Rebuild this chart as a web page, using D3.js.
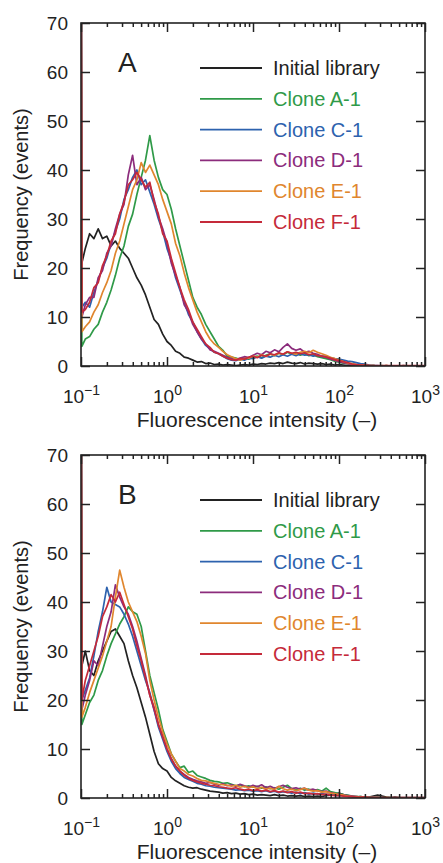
<!DOCTYPE html>
<html>
<head>
<meta charset="utf-8">
<script src="https://cdn.jsdelivr.net/npm/d3@7"></script>
<style>
body { margin: 0; background: #fff; }
svg text { font-family: "Liberation Sans", Arial, Helvetica, sans-serif; fill: #222; }
</style>
</head>
<body>
<div id="chart"></div>
<script>
// histogram bins, log10 of fluorescence intensity
const logBins = [-1.00, -0.99, -0.95, -0.90, -0.85, -0.80, -0.75, -0.70, -0.65, -0.60,
  -0.55, -0.50, -0.45, -0.40, -0.35, -0.30, -0.25, -0.20, -0.15, -0.10,
  -0.05, 0.00, 0.05, 0.10, 0.15, 0.20, 0.25, 0.30, 0.35, 0.40,
  0.45, 0.50, 0.55, 0.60, 0.65, 0.70, 0.75, 0.80, 0.85, 0.90,
  0.95, 1.00, 1.05, 1.10, 1.15, 1.20, 1.25, 1.30, 1.35, 1.40,
  1.45, 1.50, 1.55, 1.60, 1.65, 1.70, 1.75, 1.80, 1.85, 1.90,
  1.95, 2.00, 2.05, 2.10, 2.15, 2.20, 2.25, 2.30, 2.35, 2.40,
  2.45, 2.50, 2.55, 2.60, 2.65, 2.70, 2.75, 2.80, 2.85, 2.90,
  2.95, 3.00];

const seriesNames = ["Initial library", "Clone A-1", "Clone C-1", "Clone D-1", "Clone E-1", "Clone F-1"];
const seriesColors = ["#222222", "#2f9a48", "#2d62ae", "#8c2c7c", "#e0862e", "#c52a3a"];
const yTicks = [0, 10, 20, 30, 40, 50, 60, 70];
const xTicks = [0.1, 1, 10, 100, 1000];
const xTickExp = ["\u22121", "0", "1", "2", "3"];

// panel A
const a_initial = [100, 21, 24, 27, 26, 28, 26, 26.5, 24.5, 25.5, 24, 23, 22, 20, 18, 16.5, 14.5, 12, 9.5, 8.5,
  6.5, 5, 4.2, 3, 2.6, 1.8, 1.6, 1.2, 0.8, 0.9, 0.5, 0.6, 0.3, 0.4, 0.2, 0.3,
  0.2, 0.1, 0.2, 0.3, 0.2, 0.4, 0.3, 0.5, 0.4, 0.6, 0.5, 0.7, 0.5, 0.8, 0.6, 0.5, 0.7, 0.4, 0.6, 0.5,
  0.4, 0.5, 0.3, 0.4, 0.2, 0.3, 0.2, 0.1, 0.2, 0.1, 0.1, 0.1, 0, 0.1, 0, 0, 0.1, 0, 0, 0, 0.1, 0, 0, 0, 0, 0];
const a_cloneA = [100, 4, 5.5, 6, 7.5, 8.5, 11, 13, 15.5, 18.5, 22, 24.5, 28.5, 31, 35, 38.5, 42, 47, 42, 38.5,
  36, 35, 32, 28, 24.5, 21, 17.5, 14, 12, 10.5, 8.5, 7, 5.5, 4, 3.2, 2.0,
  1.8, 1.6, 1.3, 1.6, 1.4, 1.8, 2.0, 1.7, 2.2, 2.5, 2.1, 2.6, 2.3, 2.8, 2.4, 2.6, 2.2, 2.5, 2.1, 2.3,
  1.9, 1.7, 1.5, 1.3, 1.0, 0.8, 0.6, 0.5, 0.3, 0.3, 0.2, 0.1, 0.1, 0.1, 0, 0.1, 0, 0, 0, 0, 0, 0, 0, 0, 0, 0];
const a_cloneC = [100, 12, 13, 12, 15, 17.5, 20, 22, 25, 27.5, 30, 34, 36, 38.5, 40, 37, 38, 35.5, 33, 30,
  27.5, 24, 21.5, 18, 15.5, 13, 10.5, 9, 7, 5.5, 4.2, 3.5, 2.8, 2.5, 2, 1.5,
  1.2, 1.1, 1.4, 1.2, 1.6, 1.5, 1.9, 1.6, 2.0, 1.8, 2.2, 1.9, 2.3, 2.0, 2.4, 2.1, 2.5, 2.2, 2.3, 2.0,
  2.2, 1.9, 2.0, 1.7, 1.5, 1.4, 1.2, 1.0, 0.9, 0.7, 0.5, 0.4, 0.2, 0.1, 0.1, 0, 0, 0, 0, 0, 0, 0, 0, 0, 0, 0];
const a_cloneD = [100, 10, 12.5, 14, 14, 18, 19.5, 23, 24.5, 28, 31, 33, 39, 43, 37, 38.5, 36, 37, 34, 30.5,
  28, 25, 21, 18.5, 16, 12.5, 11, 8.5, 7, 5.5, 4.5, 3.3, 3, 2.6, 2.2, 1.8,
  1.5, 1.3, 1.6, 1.9, 1.7, 2.2, 2.6, 2.3, 3.0, 2.7, 3.3, 2.9, 3.8, 4.5, 3.6, 3.2, 3.5, 2.8, 3.0, 2.6,
  2.4, 2.0, 1.8, 1.4, 1.2, 0.9, 0.7, 0.5, 0.3, 0.2, 0.2, 0.1, 0.1, 0, 0, 0, 0, 0, 0, 0, 0, 0, 0, 0, 0, 0];
const a_cloneE = [100, 7, 8, 9, 11, 12.5, 15, 17, 19.5, 23, 25.5, 29, 32.5, 36, 38, 41.5, 39.5, 41, 39, 37,
  34, 31.5, 29, 25, 22.5, 19, 16, 13.5, 11, 9, 7, 5.5, 4.5, 3.8, 3, 2.3,
  1.9, 1.5, 1.2, 1.5, 1.6, 2.0, 1.8, 2.3, 2.0, 2.4, 2.2, 2.6, 2.4, 2.9, 2.6, 2.4, 2.8, 3.0, 2.7, 3.2,
  2.8, 2.5, 2.2, 1.8, 1.5, 1.2, 0.9, 0.6, 0.5, 0.3, 0.2, 0.2, 0.1, 0.1, 0, 0, 0.1, 0, 0, 0, 0, 0, 0, 0, 0, 0];
const a_cloneF = [100, 11, 11.5, 13, 16, 17, 20.5, 22.5, 25.5, 27, 31, 33.5, 37, 38, 39.5, 38, 36.5, 37.5, 33.5, 31,
  27, 25.5, 22, 19, 16, 13.5, 11.5, 9, 7.5, 6, 4.5, 3.8, 2.8, 2.5, 2, 1.6,
  1.3, 1.2, 1.5, 1.4, 1.8, 2.0, 1.7, 2.2, 2.0, 2.5, 2.3, 2.7, 2.4, 2.9, 2.6, 2.8, 2.5, 2.7, 2.3, 2.5,
  2.1, 2.0, 1.8, 1.6, 1.3, 1.1, 0.9, 0.7, 0.4, 0.3, 0.2, 0.2, 0.1, 0.1, 0.1, 0.1, 0.1, 0.1, 0.1, 0.1, 0.1, 0.1, 0.1, 0.1, 0.1, 0.1];

// panel B
const b_initial = [100, 27, 30, 26, 25, 28, 30, 32, 34, 34.5, 33, 31.5, 28, 25, 22.5, 19.5, 16.5, 13, 9.5, 7,
  6, 5.5, 4.2, 3.5, 3, 2.5, 2.2, 2.0, 2.1, 1.8, 1.6, 1.4, 1.3, 1.2, 1.0, 1.1,
  0.9, 1.0, 0.8, 0.9, 0.7, 0.8, 0.6, 0.7, 0.6, 0.5, 0.7, 0.5, 0.6, 0.4, 0.5, 0.4, 0.5, 0.3, 0.4, 0.3,
  0.4, 0.3, 0.5, 0.6, 0.8, 1.0, 0.7, 0.4, 0.3, 0.2, 0.3, 0.2, 0.2, 0.4, 0.6, 0.4, 0.2, 0.1, 0.2, 0.1, 0.1, 0.1, 0.1, 0.1, 0.1, 0.1];
const b_cloneA = [100, 15, 17, 19.5, 21, 24, 26, 29, 31.5, 33.5, 35.5, 37, 39, 38, 37.5, 35, 30, 25, 21.5, 18,
  14, 11.5, 9, 7.5, 6.2, 6.5, 5.2, 5.5, 4.6, 4.3, 4.0, 3.6, 3.4, 3.3, 3.0, 3.1,
  2.8, 2.5, 2.7, 2.3, 2.5, 2.2, 2.4, 2.0, 2.3, 1.9, 2.1, 1.8, 2.2, 2.6, 1.9, 1.7, 2.0, 1.6, 1.8, 1.5,
  1.7, 1.4, 2.0, 1.3, 1.1, 0.9, 0.7, 0.6, 0.4, 0.3, 0.3, 0.2, 0.2, 0.1, 0.2, 0.1, 0.1, 0.1, 0, 0.1, 0, 0, 0, 0, 0, 0];
const b_cloneC = [100, 20, 22, 24.5, 29, 34, 38, 43, 40, 39.5, 39, 37.5, 35.5, 33, 30, 27, 24, 21.5, 18, 14.5,
  12, 9.5, 7.5, 6, 5, 4.2, 3.8, 3.4, 3.0, 2.8, 2.5, 2.4, 2.2, 2.1, 2.0, 1.9,
  1.8, 1.6, 1.7, 1.5, 1.6, 1.4, 1.5, 1.3, 1.5, 1.2, 1.4, 1.1, 1.3, 1.2, 1.0, 1.2, 0.9, 1.1, 0.8, 1.0,
  0.8, 0.9, 0.7, 0.8, 0.6, 0.5, 0.6, 0.4, 0.3, 0.3, 0.2, 0.2, 0.1, 0.1, 0.1, 0, 0, 0, 0, 0, 0, 0, 0, 0, 0, 0];
const b_cloneD = [100, 18, 21, 24, 28, 27, 31, 35, 38, 43.5, 41, 39, 37.5, 35, 32, 28.5, 25, 21, 18, 15,
  12.5, 10, 8, 6.5, 5.5, 4.8, 4.2, 3.8, 3.5, 3.3, 3.0, 3.2, 2.8, 2.6, 2.9, 2.5,
  2.7, 2.4, 2.8, 2.5, 2.2, 2.6, 2.3, 2.7, 2.1, 2.4, 2.0, 2.3, 2.6, 2.2, 1.9, 2.1, 1.8, 2.0, 1.6, 1.8,
  1.5, 1.3, 1.4, 1.1, 0.9, 0.8, 0.6, 0.5, 0.4, 0.3, 0.2, 0.2, 0.1, 0.1, 0.1, 0.1, 0, 0, 0, 0, 0, 0, 0, 0, 0, 0];
const b_cloneE = [100, 16.5, 18.5, 21.5, 24, 26.5, 29, 32, 35, 41, 46.5, 43, 40, 38, 36, 33, 29.5, 24, 20, 16.5,
  13.5, 11, 9, 7.5, 6, 5.5, 4.8, 4.5, 4, 3.6, 3.5, 3.2, 3.0, 2.8, 2.7, 2.6,
  2.4, 2.6, 2.2, 2.4, 2.1, 2.3, 1.9, 2.2, 1.8, 2.0, 1.7, 2.4, 1.9, 1.6, 1.8, 1.5, 1.7, 2.0, 1.6, 1.4,
  1.5, 1.2, 1.3, 1.0, 0.9, 0.7, 0.6, 0.4, 0.3, 0.3, 0.2, 0.2, 0.1, 0.1, 0.1, 0, 0.1, 0, 0, 0, 0, 0, 0, 0, 0, 0];
const b_cloneF = [100, 20, 24, 27, 30, 33, 37, 39, 41.5, 40, 42, 39.5, 37, 34.5, 31, 28, 24.5, 21, 18.5, 15,
  12.5, 10, 8, 6.5, 5.5, 4.6, 4.0, 3.6, 3.3, 3.0, 2.8, 2.6, 2.5, 2.3, 2.2, 2.0,
  1.9, 2.1, 1.8, 1.6, 1.8, 1.5, 1.7, 1.4, 1.6, 1.3, 1.5, 1.2, 1.4, 1.1, 1.3, 1.0, 1.2, 0.9, 1.0, 0.8,
  0.9, 0.7, 0.8, 0.6, 0.5, 0.5, 0.4, 0.3, 0.3, 0.2, 0.2, 0.2, 0.1, 0.1, 0.1, 0.1, 0.1, 0.1, 0.1, 0.1, 0.1, 0.1, 0.1, 0.1, 0.1, 0.1];

const panels = [
  {id: "A", top: 23, series: [a_initial, a_cloneA, a_cloneC, a_cloneD, a_cloneE, a_cloneF]},
  {id: "B", top: 455, series: [b_initial, b_cloneA, b_cloneC, b_cloneD, b_cloneE, b_cloneF]}
];

const left = 81, plotW = 344, plotH = 343;

const svg = d3.select("#chart").append("svg")
    .attr("width", 443)
    .attr("height", 863);

const x = d3.scaleLog().domain([0.1, 1000]).range([0, plotW]);
const y = d3.scaleLinear().domain([0, 70]).range([plotH, 0]);
const minorTicks = x.ticks().filter(t => !xTicks.includes(t));

const line = d3.line()
    .x((d, i) => x(Math.pow(10, logBins[i])))
    .y(d => y(d));

panels.forEach(function (p) {
    const g = svg.append("g")
        .attr("transform", "translate(" + left + "," + p.top + ")");

    g.append("clipPath").attr("id", "clip" + p.id)
        .append("rect").attr("width", plotW).attr("height", plotH);

    // histograms
    g.append("g").attr("clip-path", "url(#clip" + p.id + ")")
        .selectAll("path")
        .data(p.series)
        .enter().append("path")
        .attr("d", line)
        .attr("fill", "none")
        .attr("stroke", (d, i) => seriesColors[i])
        .attr("stroke-width", 1.7)
        .attr("stroke-linejoin", "round");

    // axes, ticks inward on all four sides
    const bottom = g.append("g").attr("transform", "translate(0," + plotH + ")");
    bottom.call(d3.axisBottom(x).tickValues(xTicks).tickSize(-9).tickFormat(""));
    bottom.append("g").call(d3.axisBottom(x).tickValues(minorTicks).tickSize(-4).tickFormat(""));
    g.append("g").call(d3.axisTop(x).tickValues(xTicks).tickSize(-9).tickFormat(""));
    g.append("g").call(d3.axisTop(x).tickValues(minorTicks).tickSize(-4).tickFormat(""));
    const leftAxis = g.append("g").call(d3.axisLeft(y).tickValues(yTicks).tickSize(-9).tickPadding(13));
    g.append("g").attr("transform", "translate(" + plotW + ",0)")
        .call(d3.axisRight(y).tickValues(yTicks).tickSize(-9).tickFormat(""));

    g.selectAll(".domain").remove();
    g.selectAll(".tick line").attr("stroke", "#222").attr("stroke-width", 1.5);
    leftAxis.selectAll("text").style("font-size", "19px").attr("fill", "#222");

    // power-of-ten labels
    const lab = bottom.selectAll(":scope > .tick").append("text")
        .attr("y", 37)
        .attr("text-anchor", "middle")
        .style("font-size", "19px")
        .attr("fill", "#222");
    lab.append("tspan").text("10");
    lab.append("tspan").attr("dy", -8).style("font-size", "14px").text((d, i) => xTickExp[i]);

    g.append("rect")
        .attr("width", plotW).attr("height", plotH)
        .attr("fill", "none").attr("stroke", "#222").attr("stroke-width", 1.6);

    g.append("text")
        .attr("x", plotW / 2 + 4).attr("y", plotH + 61)
        .attr("text-anchor", "middle")
        .style("font-size", "21px")
        .text("Fluorescence intensity (\u2013)");

    g.append("text")
        .attr("transform", "translate(-53," + (plotH / 2) + ") rotate(-90)")
        .attr("text-anchor", "middle")
        .style("font-size", "20px")
        .text("Frequency (events)");

    g.append("text")
        .attr("x", 37).attr("y", 49)
        .style("font-size", "28px")
        .text(p.id);

    // legend
    const leg = g.selectAll(".legend")
        .data(seriesNames)
        .enter().append("g")
        .attr("class", "legend")
        .attr("transform", (d, i) => "translate(119," + (45 + i * 30.8) + ")");
    leg.append("line")
        .attr("x1", 0).attr("x2", 62)
        .attr("stroke", (d, i) => seriesColors[i])
        .attr("stroke-width", 1.8);
    leg.append("text")
        .attr("x", 73).attr("y", 7)
        .style("font-size", "20px")
        .style("fill", (d, i) => seriesColors[i])
        .text(d => d);
});
</script>
</body>
</html>
